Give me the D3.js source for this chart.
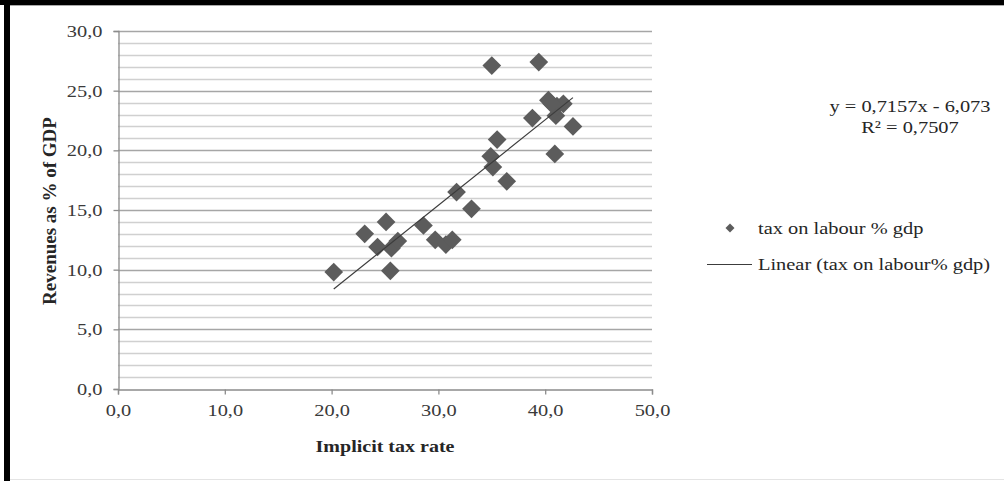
<!DOCTYPE html>
<html><head><meta charset="utf-8">
<script src="https://cdn.jsdelivr.net/npm/d3@7"></script>
<style>
html,body{margin:0;padding:0;background:#fff;}
svg{display:block;}
</style></head>
<body>
<svg id="chart" width="1004" height="481"></svg>
<script>
// ---- data ----
const implicitTaxRate = [20.2,23.1,24.3,25.1,25.5,25.6,26.2,28.6,29.7,30.7,31.3,31.7,33.1,34.9,35.1,35.5,36.4,35.0,38.8,39.4,40.3,40.9,41.0,41.1,41.7,42.6,40.6];
const revenuesPctGdp  = [9.8,13.0,11.9,14.0,9.9,11.8,12.4,13.7,12.5,12.1,12.5,16.5,15.1,19.5,18.6,20.9,17.4,27.1,22.7,27.4,24.2,19.7,22.9,23.7,23.9,22.0,23.9];
const trendSlope = 0.7157;
const trendIntercept = -6.073;
const xTicks = [0,10,20,30,40,50];
const yTicks = [0,5,10,15,20,25,30];
const yMinorTicks = d3.range(0,31,1);
const legendLabels = ["tax on labour % gdp","Linear (tax on labour% gdp)"];
const equationLines = ["y = 0,7157x - 6,073","R² = 0,7507"];
const xTitle = "Implicit tax rate";
const yTitle = "Revenues as % of GDP";

const svg = d3.select("#chart");
const W = 1004, H = 481;
const fmt = d => d.toFixed(1).replace(".", ",");
const FONT = "Liberation Serif, Times New Roman, serif";
const SX = 1.2; // horizontal stretch of the source image text

function stext(xp, yp, txt, opts = {}) {
  const g = svg.append("g").attr("transform", `translate(${xp},${yp}) scale(${opts.sx || SX},1)`);
  return g.append("text").attr("x",0).attr("y",0)
    .attr("text-anchor", opts.anchor || "start")
    .attr("font-family", FONT).attr("font-size", opts.size || 17)
    .attr("font-weight", opts.weight || "normal")
    .attr("fill", opts.fill || "#262626").text(txt);
}

// frame
svg.append("rect").attr("x",0).attr("y",0).attr("width",W).attr("height",H).attr("fill","#fff");
svg.append("rect").attr("x",0).attr("y",0).attr("width",W).attr("height",5).attr("fill","#000");
svg.append("rect").attr("x",4).attr("y",0).attr("width",6).attr("height",H).attr("fill","#000");
svg.append("line").attr("x1",10).attr("x2",W).attr("y1",5.5).attr("y2",5.5).attr("stroke","#aaa");
svg.append("line").attr("x1",10).attr("x2",W).attr("y1",479.5).attr("y2",479.5).attr("stroke","#e4e4e4");

const x = d3.scaleLinear().domain([0,50]).range([118,652]);
const y = d3.scaleLinear().domain([0,30]).range([389,31]);

// gridlines
const g = svg.append("g");
g.selectAll("line.minor").data(yMinorTicks.filter(v => v % 5 !== 0)).enter().append("line")
  .attr("x1",x(0)).attr("x2",x(50)).attr("y1",d=>Math.round(y(d))+0.5).attr("y2",d=>Math.round(y(d))+0.5)
  .attr("stroke","#d0d0d0").attr("stroke-width",1.3);
g.selectAll("line.major").data(yTicks.filter(v=>v>0)).enter().append("line")
  .attr("x1",x(0)).attr("x2",x(50)).attr("y1",d=>Math.round(y(d))+0.5).attr("y2",d=>Math.round(y(d))+0.5)
  .attr("stroke","#a6a6a6").attr("stroke-width",1.3);

// axes
const xAxis = d3.axisBottom(x).tickValues(xTicks).tickFormat(fmt).tickSize(5).tickPadding(9);
const yAxis = d3.axisLeft(y).tickValues(yTicks).tickFormat(fmt).tickSize(5).tickPadding(0);
const gx = svg.append("g").attr("transform",`translate(0,${Math.round(y(0))+0.5})`).call(xAxis);
const gy = svg.append("g").attr("transform",`translate(${Math.round(x(0))+0.5},0)`).call(yAxis);
[gx,gy].forEach(a=>{
  a.select(".domain").attr("stroke","#8c8c8c").attr("stroke-width",1.3);
  a.selectAll(".tick line").attr("stroke","#8c8c8c").attr("stroke-width",1.3);
  a.selectAll("text").attr("font-family",FONT).attr("font-size",17).attr("fill","#3a3a3a");
});
gx.selectAll(".tick text").attr("transform",`scale(${SX},1)`);
gy.selectAll(".tick text").attr("x",0).attr("transform",`translate(-16,0) scale(${SX},1)`);

// titles
stext(385, 452, xTitle, {anchor:"middle", weight:"bold", size:16, sx:1.25});
svg.append("text").attr("transform","translate(56,211) rotate(-90)").attr("text-anchor","middle")
  .attr("font-family",FONT).attr("font-weight","bold").attr("font-size",19).attr("fill","#262626").text(yTitle);

// points
const pts = implicitTaxRate.map((v,i)=>({x:v,y:revenuesPctGdp[i]}));
const diamond = d3.symbol().type(d3.symbolSquare).size(175);
svg.append("g").selectAll("path").data(pts).enter().append("path")
  .attr("d",diamond)
  .attr("transform",d=>`translate(${x(d.x)},${y(d.y)}) rotate(45)`)
  .attr("fill","#5c5c5c");

// trendline
const xmin = d3.min(implicitTaxRate), xmax = d3.max(implicitTaxRate);
svg.append("line")
  .attr("x1",x(xmin)).attr("y1",y(trendSlope*xmin+trendIntercept))
  .attr("x2",x(xmax)).attr("y2",y(trendSlope*xmax+trendIntercept))
  .attr("stroke","#3c3c3c").attr("stroke-width",1.2);

// equation
stext(910, 112, equationLines[0], {anchor:"middle"});
stext(910, 133, equationLines[1], {anchor:"middle"});

// legend
svg.append("path").attr("d",d3.symbol().type(d3.symbolSquare).size(40))
  .attr("transform","translate(730,228) rotate(45)").attr("fill","#5c5c5c");
stext(758, 234, legendLabels[0]);
svg.append("line").attr("x1",707).attr("x2",752).attr("y1",264.5).attr("y2",264.5).attr("stroke","#3c3c3c").attr("stroke-width",1.2);
stext(758, 270, legendLabels[1]);
</script>
</body></html>
